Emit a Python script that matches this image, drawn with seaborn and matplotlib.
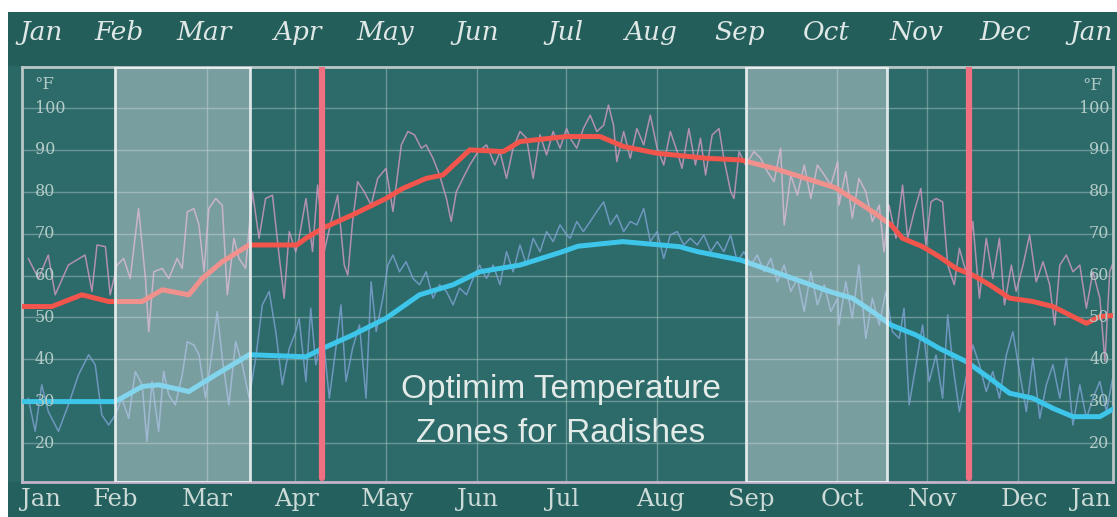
import matplotlib
matplotlib.use("Agg")
import matplotlib.pyplot as plt
from matplotlib.patches import Rectangle
import seaborn as sns
import pandas as pd

# ---------------- data ----------------
months = ["Jan", "Feb", "Mar", "Apr", "May", "Jun", "Jul", "Aug", "Sep", "Oct", "Nov", "Dec", "Jan"]
top_label_days = [6.4, 32.4, 60.9, 92.0, 121.4, 152.2, 181.7, 210.1, 239.9, 269.3, 299.4, 328.8, 357.7]
bottom_label_days = [6.4, 31.4, 61.9, 92.0, 122.4, 152.5, 181.0, 213.5, 243.9, 274.3, 304.8, 335.2, 357.7]
month_grid_days = [31, 61.8, 91.3, 121.8, 152.2, 182, 212.4, 242.2, 272.7, 302.8, 333.2]
temp_ticks = [20, 30, 40, 50, 60, 70, 80, 90, 100]

# normal (smoothed) high temperature
normal_hi_days = [0, 10, 20, 29, 40.2, 46.9, 55.8, 60.3, 67, 76, 92, 95, 100.6, 110.6, 121.8, 127.4,
                  135.2, 140.8, 149.8, 161, 166.6, 182.2, 193.4, 201.3, 212.5, 229.2, 240.4, 251.6,
                  272, 277.8, 284.5, 290.7, 294.6, 301.3, 306.9, 312.5, 318.1, 323.7, 330.4, 338.2,
                  344.9, 356.1, 360.6, 367.4]
normal_hi_vals = [52.6, 52.6, 55.4, 53.8, 53.8, 56.6, 55.4, 59.3, 63.3, 67.3, 67.3, 68.9, 71.3, 74.5,
                  78.4, 80.8, 83.2, 84.0, 90.0, 89.6, 92.0, 93.2, 93.2, 90.8, 89.2, 88.0, 87.6, 85.6,
                  81.0, 78.4, 75.3, 72.1, 68.9, 66.9, 64.5, 61.7, 60.1, 57.8, 54.6, 53.8, 52.6, 48.6,
                  50.2, 50.6]

# normal (smoothed) low temperature
normal_lo_days = [0, 31.2, 40.2, 45.7, 55.8, 64.8, 76, 95, 100.6, 110.6, 121.8, 133, 144.2, 153.1,
                  166.6, 180, 186, 201, 220, 226, 240.4, 251.6, 271, 277.8, 284.5, 290.7, 299.1,
                  306.9, 315.8, 323.7, 330.4, 338.2, 344.9, 351.6, 360.6, 367.4]
normal_lo_vals = [29.9, 29.9, 33.5, 33.9, 32.3, 36.3, 41.1, 40.6, 42.6, 45.8, 49.8, 55.4, 57.8, 60.9,
                  62.5, 65.5, 67.0, 68.1, 66.9, 65.7, 63.7, 60.9, 56.0, 54.6, 51.4, 48.2, 45.8, 42.6,
                  39.5, 35.5, 31.9, 30.7, 28.3, 26.3, 26.3, 29.1]

# daily recorded highs
daily_hi_days = [2.1, 5.5, 8.8, 11.1, 15.5, 21.1, 23.4, 25.1, 27.9, 29.5, 31.8, 34.0, 36.2, 39.0, 41.3,
                 42.4, 44.1, 46.9, 49.1, 51.9, 53.6, 55.3, 57.5, 59.2, 60.9, 62.5, 64.8, 67.0, 68.7,
                 70.9, 72.6, 74.8, 77.1, 79.3, 81.5, 83.8, 86.0, 87.7, 89.4, 91.6,
                 92.7, 95.0, 97.2, 98.9, 101.1, 103.4, 105.6, 107.8, 109.0, 110.6, 112.3, 114.5,
                 116.8, 119.0, 121.8, 124.1, 126.9, 129.1, 131.3, 133.6, 135.2, 137.5, 139.7, 142.0,
                 143.6, 145.3, 147.5, 149.8, 152.6, 155.4, 158.2, 159.9, 162.1, 164.3, 166.6, 168.8,
                 171.0, 173.3, 175.5, 177.7, 180.0, 182.2,
                 183.4, 185.6, 187.8, 190.1, 192.3, 194.6, 196.2, 197.9, 199.0, 201.3, 203.5, 205.7,
                 208.0, 210.2, 212.5, 214.7, 216.9, 219.2, 220.8, 223.1, 225.3, 227.0, 228.7, 230.9,
                 233.2, 234.8, 237.1, 238.2, 239.9, 242.1, 244.9, 247.1, 249.4, 251.6, 253.8, 255.0,
                 257.2, 259.4, 261.7, 263.9, 266.1, 268.4, 270.6, 272.9,
                 273.3, 275.6, 277.8, 280.0, 282.3, 284.5, 286.8, 288.4, 290.1, 292.4, 294.6, 296.3,
                 298.5, 300.7, 302.4, 304.1, 305.8, 308.0, 309.7, 311.9, 313.6, 315.8, 318.1, 320.3,
                 322.6, 324.8, 327.0, 328.7, 331.0, 332.6, 334.9, 337.1, 339.3, 341.6, 343.8, 345.5,
                 347.2, 349.4, 351.6, 353.9, 356.1, 358.3, 360.6, 362.3, 363.9, 365.6, 367.4]
daily_hi_vals = [64.1, 59.3, 64.9, 55.4, 62.5, 64.9, 56.2, 67.3, 66.9, 55.4, 62.5, 64.1, 59.3, 76.0, 59.3,
                 46.6, 60.9, 61.7, 59.3, 64.1, 61.7, 75.2, 76.0, 72.1, 60.9, 76.0, 78.4, 76.8, 55.4,
                 68.9, 64.1, 61.7, 80.0, 68.9, 78.4, 79.2, 64.9, 54.6, 70.5, 65.7,
                 68.9, 78.4, 65.7, 81.6, 65.7, 72.9, 79.2, 62.5, 60.1, 72.9, 82.4, 80.0,
                 76.8, 83.2, 85.6, 75.3, 91.2, 94.4, 93.6, 90.4, 91.2, 88.0, 84.0, 78.4,
                 72.9, 80.0, 83.2, 86.4, 89.6, 91.2, 86.4, 89.6, 83.2, 90.4, 94.4, 92.8,
                 83.2, 93.6, 88.8, 94.4, 90.4, 95.1,
                 92.8, 90.4, 95.1, 98.3, 94.4, 95.9, 100.7, 95.9, 87.2, 94.4, 88.0, 95.1,
                 91.2, 98.3, 90.4, 86.4, 94.4, 89.6, 85.6, 95.1, 86.4, 92.8, 84.0, 93.6,
                 95.1, 88.0, 80.0, 78.4, 89.6, 86.4, 89.6, 88.0, 84.8, 82.4, 90.4, 72.1,
                 84.0, 79.2, 86.4, 78.4, 86.4, 84.0, 81.6, 87.2,
                 76.8, 84.8, 73.7, 83.2, 80.0, 72.9, 76.8, 65.7, 76.8, 68.9, 81.6, 68.9,
                 75.3, 80.8, 67.3, 77.6, 78.4, 77.6, 62.5, 57.8, 66.5, 60.9, 72.9, 54.6,
                 68.9, 59.3, 68.9, 53.0, 62.5, 56.2, 62.5, 69.7, 58.5, 63.3, 57.8, 48.2,
                 62.5, 64.9, 60.9, 62.5, 52.2, 60.9, 54.6, 39.5, 60.9, 64.1, 64.9]

# daily recorded lows
daily_lo_days = [2.1, 4.4, 6.6, 8.8, 12.2, 15.5, 18.9, 22.3, 24.5, 26.7, 29.0, 31.2, 33.4, 35.7, 37.9,
                 40.2, 41.8, 43.5, 45.7, 47.4, 49.1, 51.3, 53.6, 55.3, 57.5, 59.2, 61.4, 63.6, 65.3,
                 67.0, 69.2, 71.5, 73.7, 76.0, 78.2, 80.4, 82.7, 84.9, 87.1, 89.4, 91.6,
                 92.7, 95.0, 96.6, 98.3, 100.6, 102.8, 105.0, 106.7, 108.4, 110.6, 112.9, 115.1,
                 116.8, 118.5, 120.7, 122.4, 124.1, 126.3, 128.5, 130.8, 133.0, 135.2, 137.5, 139.7,
                 142.0, 144.2, 146.4, 148.7, 150.9, 153.1, 155.4, 157.6, 159.9, 162.1, 164.3, 166.6,
                 168.8, 171.0, 173.3, 175.5, 177.7, 180.0, 182.2,
                 183.4, 185.6, 187.8, 190.1, 192.3, 194.6, 196.8, 199.0, 201.3, 203.5, 205.7, 208.0,
                 210.2, 212.5, 214.7, 216.9, 219.2, 221.4, 223.6, 225.9, 228.1, 230.4, 232.6, 234.8,
                 237.1, 239.3, 241.5, 243.8, 246.0, 248.3, 250.5, 252.7, 255.0, 257.2, 259.4, 261.7,
                 263.9, 266.1, 268.4, 270.6, 272.9,
                 273.3, 275.6, 277.8, 280.0, 282.3, 284.5, 286.8, 289.0, 291.2, 293.5, 295.1, 296.8,
                 299.1, 301.3, 303.5, 305.8, 308.0, 309.7, 311.4, 313.6, 315.8, 318.1, 320.3, 322.6,
                 324.8, 327.0, 329.3, 331.5, 333.7, 336.0, 338.2, 340.5, 342.7, 344.9, 347.2, 349.4,
                 351.6, 353.9, 356.1, 358.3, 360.6, 362.8, 365.1, 367.4]
daily_lo_vals = [30.7, 22.8, 33.9, 27.5, 22.8, 29.1, 36.3, 41.1, 38.7, 26.7, 24.3, 26.7, 30.7, 25.9, 37.1,
                 33.9, 20.4, 34.7, 22.8, 37.1, 31.5, 29.1, 36.3, 44.2, 43.4, 41.1, 30.7, 41.8, 51.4,
                 40.3, 29.1, 44.2, 38.7, 30.7, 40.3, 53.0, 56.2, 46.6, 33.9, 42.6, 46.6,
                 49.8, 34.7, 52.2, 38.7, 46.6, 30.7, 42.6, 53.0, 34.7, 42.6, 48.2, 30.7,
                 58.5, 46.6, 54.6, 62.5, 64.9, 60.9, 63.3, 59.3, 57.8, 60.9, 54.6, 57.8,
                 56.2, 53.0, 57.0, 55.4, 59.3, 62.5, 59.3, 62.5, 57.8, 65.7, 60.9, 67.3,
                 62.5, 68.9, 65.7, 70.5, 68.1, 72.1, 69.7,
                 68.9, 72.9, 70.5, 72.9, 75.3, 77.6, 72.1, 74.5, 70.5, 72.9, 72.1, 76.0,
                 68.1, 70.5, 64.1, 69.7, 70.5, 67.3, 68.9, 67.3, 69.7, 65.7, 68.1, 65.7,
                 69.7, 63.3, 65.7, 62.5, 64.9, 60.9, 64.1, 58.5, 62.5, 56.2, 59.3, 51.4,
                 60.9, 53.0, 57.8, 51.4, 54.6,
                 48.2, 58.5, 49.8, 62.5, 45.0, 54.6, 48.2, 56.2, 46.6, 45.0, 52.2, 29.1,
                 38.7, 48.2, 34.7, 41.0, 30.7, 50.6, 38.7, 27.5, 35.5, 43.4, 38.7, 32.3,
                 37.1, 30.7, 41.0, 46.6, 37.1, 27.5, 40.3, 25.9, 33.9, 38.7, 30.7, 40.3,
                 24.3, 33.9, 25.9, 30.7, 34.7, 27.5, 36.3, 32.3]

# optimum zones and limit lines
zone_spans = [(31.0, 76.3), (242.2, 289.4)]
limit_days = [100.4, 316.8]
annotation = ["Optimim Temperature", "Zones for Radishes"]

# ---------------- figure ----------------
sns.set_theme(style="white")
plt.rcParams["font.family"] = ["DejaVu Sans"]

W, H = 1117, 517
fig = plt.figure(figsize=(W / 100, H / 100), dpi=100, facecolor="white")

# teal card behind everything
fig.patches.append(Rectangle((8 / W, 0), 1 - 8 / W, (H - 12) / H, transform=fig.transFigure,
                             facecolor="#2a6866", edgecolor="none", zorder=-10))
fig.patches.append(Rectangle((8 / W, (H - 66) / H), 1 - 8 / W, 54 / H, transform=fig.transFigure,
                             facecolor="#235e5b", edgecolor="none", zorder=-9))
fig.patches.append(Rectangle((8 / W, 0), 1 - 8 / W, 35 / H, transform=fig.transFigure,
                             facecolor="#24605d", edgecolor="none", zorder=-9))

ax = fig.add_axes([22 / W, (H - 482) / H, (1113 - 22) / W, (482 - 67) / H])
ax.set_facecolor("#2d6a6a")
ax.set_xlim(0, 365)
ax.set_ylim(10.7, 109.8)

# grid
for v in temp_ticks:
    ax.axhline(v, color="#9dbcb9", lw=1.0, alpha=0.55, zorder=1)
for d in month_grid_days:
    ax.axvline(d, color="#9dbcb9", lw=1.0, alpha=0.55, zorder=1)

# daily noisy lines
sns.lineplot(x=daily_hi_days, y=daily_hi_vals, ax=ax, color="#d39ac2", lw=1.1, alpha=0.8,
             estimator=None, sort=False, zorder=2)
sns.lineplot(x=daily_lo_days, y=daily_lo_vals, ax=ax, color="#7fa3d4", lw=1.1, alpha=0.8,
             estimator=None, sort=False, zorder=2)

# normals
sns.lineplot(x=normal_hi_days, y=normal_hi_vals, ax=ax, color="#f2554c", lw=3.6,
             estimator=None, sort=False, zorder=3)
sns.lineplot(x=normal_lo_days, y=normal_lo_vals, ax=ax, color="#3ec6ea", lw=3.6,
             estimator=None, sort=False, zorder=3)

# optimum zones
for a, b in zone_spans:
    ax.axvspan(a, b, facecolor=(0.93, 0.93, 0.95, 0.4), edgecolor=(0.93, 0.95, 0.95, 0.9), lw=2,
               zorder=4)

# limit lines
for d in limit_days:
    ax.axvline(d, ymin=0.01, ymax=1, color="#ef7080", lw=4.5, zorder=5)

# in-plot temperature labels
lab_col = "#b4ccc8"
for v in temp_ticks:
    ax.text(4.3, v, str(v), ha="left", va="center", fontsize=11.5, color=lab_col,
            family="DejaVu Serif", zorder=6)
    ax.text(363.8, v, str(v), ha="right", va="center", fontsize=11.5, color=lab_col,
            family="DejaVu Serif", zorder=6)
ax.text(4.3, 105.6, "°F", ha="left", va="center", fontsize=12, color=lab_col, family="DejaVu Serif")
ax.text(361.5, 105.3, "°F", ha="right", va="center", fontsize=12, color=lab_col, family="DejaVu Serif")

# annotation
ax.text(180.2, 32.7, annotation[0], ha="center", va="center", fontsize=24, color="#e2ebe8",
        family="Liberation Sans", zorder=7)
ax.text(180.2, 22.4, annotation[1], ha="center", va="center", fontsize=24, color="#e2ebe8",
        family="Liberation Sans", zorder=7)

# month labels
tr = ax.get_xaxis_transform()
for d, m in zip(top_label_days, months):
    ax.text(d, 1.083, m, transform=tr, ha="center", va="center", fontsize=19, style="italic",
            color="#dfe8e6", family="DejaVu Serif", clip_on=False)
for d, m in zip(bottom_label_days, months):
    ax.text(d, -0.043, m, transform=tr, ha="center", va="center", fontsize=17.5, color="#cddbd8",
            family="DejaVu Serif", clip_on=False)

ax.set_xticks([])
ax.set_yticks([])
ax.set_xlabel("")
ax.set_ylabel("")
for s in ["left", "right", "top"]:
    ax.spines[s].set_color("#b9c7c6")
    ax.spines[s].set_linewidth(2)
ax.spines["bottom"].set_color("#c4b4cc")
ax.spines["bottom"].set_linewidth(2)

fig.savefig("out.png", dpi=100, facecolor="white")
